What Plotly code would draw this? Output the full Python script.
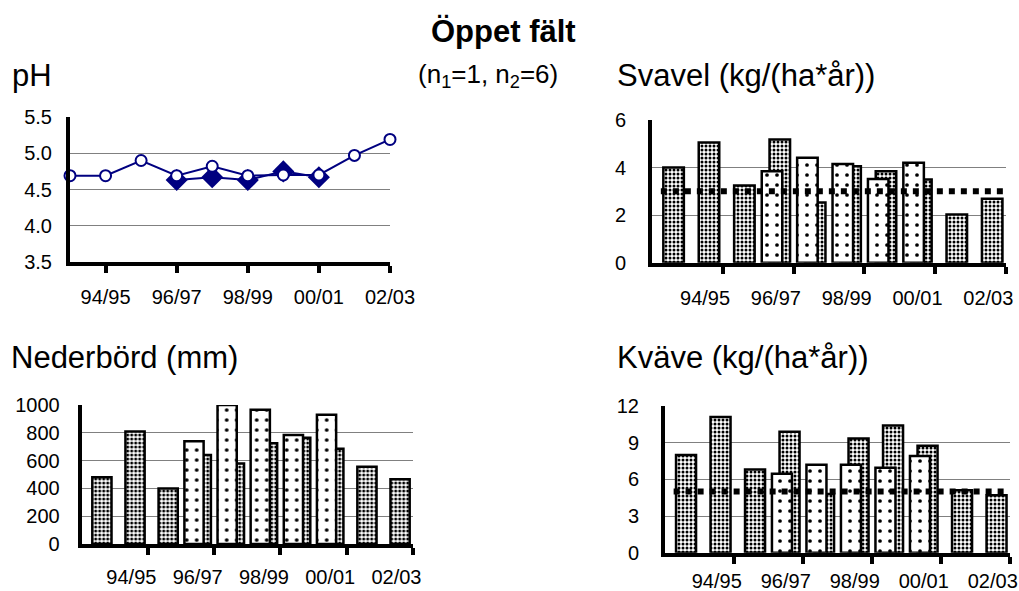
import plotly.graph_objects as go

# Hydrological years on the category axis
years = ["93/94", "94/95", "95/96", "96/97", "97/98", "98/99", "99/00", "00/01", "01/02", "02/03"]
label_years = ["94/95", "96/97", "98/99", "00/01", "02/03"]

# pH, long series (open circles) and short series (filled diamonds)
ph_long = [4.69, 4.69, 4.90, 4.69, 4.82, 4.69, 4.70, 4.70, 4.97, 5.19]
ph_short = [None, None, None, 4.63, 4.67, 4.63, 4.75, 4.67, None, None]

# Sulphur deposition, kg/(ha*år)
svavel_dense = [4.0, 5.05, 3.25, 5.18, 2.53, 4.06, 3.85, 3.5, 2.03, 2.69]
svavel_sparse = [None, None, None, 3.85, 4.41, 4.15, 3.52, 4.2, None, None]
svavel_limit = 3.0

# Precipitation, mm
ned_dense = [480, 810, 400, 640, 580, 725, 765, 685, 555, 465]
ned_sparse = [None, None, None, 740, 1000, 965, 785, 930, None, None]

# Nitrogen deposition, kg/(ha*år)
kvave_dense = [8.0, 11.1, 6.8, 9.9, 4.8, 9.35, 10.4, 8.75, 5.1, 4.7]
kvave_sparse = [None, None, None, 6.45, 7.2, 7.2, 6.95, 7.9, None, None]
kvave_limit = 5.0

idx = list(range(len(years)))
label_pos = [years.index(y) for y in label_years]
boundary_pos = [p + 0.5 for p in label_pos]

W, H = 1019, 591
FONT = "Liberation Sans, Arial, sans-serif"
NAVY = "#000080"
GRID = "#808080"
TICK_FONT = dict(family=FONT, size=20, color="black")


def xdom(x0, x1):
    return [x0 / W, x1 / W]


def ydom(top, bottom):
    return [1 - bottom / H, 1 - top / H]


fig = go.Figure()

# --- pH panel ---
fig.add_trace(go.Scatter(
    x=idx, y=ph_short, mode="lines+markers", xaxis="x", yaxis="y",
    line=dict(color=NAVY, width=2),
    marker=dict(symbol="diamond", size=17, color=NAVY),
    cliponaxis=False, connectgaps=False,
))
fig.add_trace(go.Scatter(
    x=idx, y=ph_long, mode="lines+markers", xaxis="x", yaxis="y",
    line=dict(color=NAVY, width=2),
    marker=dict(symbol="circle", size=11, color="white", line=dict(color=NAVY, width=2)),
    cliponaxis=False,
))

DENSE = dict(shape=".", fgcolor="black", bgcolor="white", size=4, solidity=0.45)
SPARSE = dict(shape=".", fgcolor="black", bgcolor="white", size=10, solidity=0.11)
BAR_W = 0.58


def add_bars(dense, sparse, xa, ya):
    fig.add_trace(go.Bar(
        x=idx, y=dense, xaxis=xa, yaxis=ya, width=BAR_W, offset=-0.18,
        marker=dict(color="white", line=dict(color="black", width=2.5), pattern=DENSE),
    ))
    fig.add_trace(go.Bar(
        x=idx, y=sparse, xaxis=xa, yaxis=ya, width=BAR_W, offset=-0.40,
        marker=dict(color="white", line=dict(color="black", width=2.5), pattern=SPARSE),
    ))


add_bars(svavel_dense, svavel_sparse, "x2", "y2")
add_bars(ned_dense, ned_sparse, "x3", "y3")
add_bars(kvave_dense, kvave_sparse, "x4", "y4")

# Threshold lines across the categories
LIMIT_SPAN = (-0.25, 9.42)
for limit, xr, yr in [(svavel_limit, "x2", "y2"), (kvave_limit, "x4", "y4")]:
    fig.add_shape(type="line", xref=xr, yref=yr, x0=LIMIT_SPAN[0], x1=LIMIT_SPAN[1],
                  y0=limit, y1=limit, layer="above",
                  line=dict(color="black", width=6, dash="dot"))

common_x = dict(
    showline=True, linewidth=4, linecolor="black", showgrid=False, zeroline=False,
    tickfont=TICK_FONT, fixedrange=True, automargin=False,
)
common_y = dict(
    showline=True, linewidth=4, linecolor="black", showgrid=True, gridcolor=GRID,
    gridwidth=1, zeroline=False, ticks="", tickfont=TICK_FONT, fixedrange=True,
    automargin=False,
)
bar_x = dict(
    common_x, range=[-0.5, 9.5], tickvals=label_pos, ticktext=label_years, ticks="",
    minor=dict(tickvals=boundary_pos, ticks="outside", ticklen=7, tickwidth=4, tickcolor="black"),
)

fig.update_layout(
    template="none",
    width=W, height=H, margin=dict(l=0, r=0, t=0, b=0, pad=0), autosize=False,
    paper_bgcolor="white", plot_bgcolor="white", showlegend=False,
    barmode="overlay", font=dict(family=FONT, color="black"),
    xaxis=dict(common_x, domain=xdom(70, 390), anchor="y", range=[0, 9],
               tickvals=label_pos, ticktext=label_years, ticks="outside",
               ticklen=7, tickwidth=4, tickcolor="black", ticklabelstandoff=7),
    yaxis=dict(common_y, domain=ydom(117, 262), anchor="x", range=[3.5, 5.5],
               dtick=0.5, tickformat=".1f", ticklabelstandoff=10),
    xaxis2=dict(bar_x, domain=xdom(652, 1006), anchor="y2", ticklabelstandoff=14),
    yaxis2=dict(common_y, domain=ydom(120, 262.7), anchor="x2", range=[0, 6],
                dtick=2, ticklabelstandoff=18),
    xaxis3=dict(bar_x, domain=xdom(81.7, 413), anchor="y3", ticklabelstandoff=12),
    yaxis3=dict(common_y, domain=ydom(405, 544), anchor="x3", range=[0, 1000],
                dtick=200, ticklabelstandoff=14),
    xaxis4=dict(bar_x, domain=xdom(665, 1010), anchor="y4", ticklabelstandoff=7),
    yaxis4=dict(common_y, domain=ydom(406, 552.7), anchor="x4", range=[0, 12],
                dtick=3, ticklabelstandoff=18),
)

TITLE_FONT = dict(family=FONT, size=31, color="black")


def text(x, y, s, font, anchor="left"):
    fig.add_annotation(x=x / W, y=1 - y / H, xref="paper", yref="paper", text=s,
                       showarrow=False, xanchor=anchor, yanchor="middle", font=font)


text(503, 31, "<b>Öppet fält</b>", dict(family=FONT, size=31, color="black"), "center")
text(416, 75, "(n<sub>1</sub>=1, n<sub>2</sub>=6)", dict(family=FONT, size=26, color="black"))
text(10, 75, "pH", TITLE_FONT)
text(615, 75, "Svavel (kg/(ha*år))", TITLE_FONT)
text(9, 357, "Nederbörd (mm)", TITLE_FONT)
text(615, 357, "Kväve (kg/(ha*år))", TITLE_FONT)

fig.write_html("out.html")
